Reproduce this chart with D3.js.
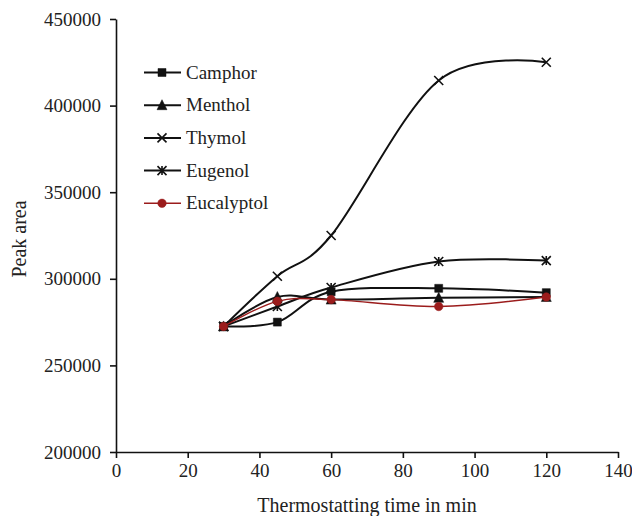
<!DOCTYPE html>
<html>
<head>
<meta charset="utf-8">
<script src="https://cdn.jsdelivr.net/npm/d3@7/dist/d3.min.js"></script>
<style>
body { margin: 0; background: #fff; }
text { font-family: "Liberation Serif", "Times New Roman", serif; fill: #222; }
</style>
</head>
<body>
<div id="chart"></div>
<script>
//Chart data
var times = [30, 45, 60, 90, 120];
var camphor = [272500, 275000, 292500, 294500, 292000];
var menthol = [272500, 289500, 288000, 289000, 289500];
var thymol = [272500, 301500, 325000, 414500, 425000];
var eugenol = [272500, 284000, 295000, 310000, 310500];
var eucalyptol = [272500, 287000, 288000, 284000, 289500];

var seriesNames = ["Camphor", "Menthol", "Thymol", "Eugenol", "Eucalyptol"];
var seriesValues = [camphor, menthol, thymol, eugenol, eucalyptol];
var xTicks = [0, 20, 40, 60, 80, 100, 120, 140];
var yTicks = [200000, 250000, 300000, 350000, 400000, 450000];

//Marker + colour per series
var styles = [
    {marker: "square", color: "#111", width: 2},
    {marker: "triangle", color: "#111", width: 2},
    {marker: "cross", color: "#111", width: 2},
    {marker: "star", color: "#111", width: 2},
    {marker: "circle", color: "#9b1c1c", width: 1.4}
];

//System dimensions
var width = 632;
var height = 516;
var margin = {left: 116, right: 14, top: 19, bottom: 64};

var svg = d3.select("#chart")
    .append("svg")
    .attr("width", width)
    .attr("height", height);

var x = d3.scaleLinear()
    .domain([0, 140])
    .range([margin.left, width - margin.right]);

var y = d3.scaleLinear()
    .domain([200000, 450000])
    .range([height - margin.bottom, margin.top]);

//Axes
var xAxis = svg.append("g")
    .attr("transform", "translate(0," + y(200000) + ")")
    .call(d3.axisBottom(x).tickValues(xTicks).tickSize(6).tickPadding(6).tickSizeOuter(0));

var yAxis = svg.append("g")
    .attr("transform", "translate(" + x(0) + ",0)")
    .call(d3.axisLeft(y).tickValues(yTicks).tickSize(6).tickPadding(9).tickFormat(d3.format("d")).tickSizeOuter(0));

[xAxis, yAxis].forEach(function(g) {
    g.select(".domain").attr("stroke", "#111").attr("stroke-width", 1.6);
    g.selectAll(".tick line").attr("stroke", "#111").attr("stroke-width", 1.6);
    g.selectAll(".tick text")
        .attr("fill", "#222")
        .style("font-family", "\"Liberation Serif\", serif")
        .style("font-size", "19px");
});

svg.append("text")
    .attr("x", x(70))
    .attr("y", 512)
    .attr("text-anchor", "middle")
    .style("font-size", "20px")
    .text("Thermostatting time in min");

svg.append("text")
    .attr("transform", "translate(26," + 239 + ") rotate(-90)")
    .attr("text-anchor", "middle")
    .style("font-size", "20px")
    .text("Peak area");

//Marker shapes
function markerPath(type, s) {
    var h = s / 2;
    if (type == "square") {
        return "M" + (-h) + "," + (-h) + "h" + s + "v" + s + "h" + (-s) + "Z";
    } else if (type == "triangle") {
        return "M0," + (-h - 1) + "L" + (h + 0.5) + "," + (h) + "L" + (-h - 0.5) + "," + (h) + "Z";
    } else if (type == "cross") {
        return "M" + (-h) + "," + (-h) + "L" + h + "," + h + "M" + h + "," + (-h) + "L" + (-h) + "," + h;
    } else if (type == "star") {
        return "M" + (-h) + "," + (-h) + "L" + h + "," + h + "M" + h + "," + (-h) + "L" + (-h) + "," + h +
            "M0," + (-h) + "L0," + h;
    }
    return d3.symbol().type(d3.symbolCircle).size(s * s * 0.7)();
}

function drawMarker(g, type, color, cx, cy) {
    var filled = type == "square" || type == "triangle" || type == "circle";
    var size = type == "circle" ? 9 : (type == "square" ? 8 : 9);
    g.append("path")
        .attr("d", markerPath(type, size))
        .attr("transform", "translate(" + cx + "," + cy + ")")
        .attr("fill", filled ? color : "none")
        .attr("stroke", color)
        .attr("stroke-width", filled ? 0.5 : 1.6);
}

//Lines
var line = d3.line()
    .x(function(d) { return x(d[0]); })
    .y(function(d) { return y(d[1]); })
    .curve(d3.curveCardinal.tension(0));

seriesValues.forEach(function(vals, i) {
    var st = styles[i];
    var pts = times.map(function(t, j) { return [t, vals[j]]; });
    var g = svg.append("g");
    g.append("path")
        .datum(pts)
        .attr("d", line)
        .attr("fill", "none")
        .attr("stroke", st.color)
        .attr("stroke-width", st.width);
    pts.forEach(function(p) {
        drawMarker(g, st.marker, st.color, x(p[0]), y(p[1]));
    });
});

//Legend
var legend = svg.append("g");
seriesNames.forEach(function(name, i) {
    var st = styles[i];
    var ly = 72.5 + i * 32.7;
    legend.append("line")
        .attr("x1", 144).attr("x2", 181)
        .attr("y1", ly).attr("y2", ly)
        .attr("stroke", st.color)
        .attr("stroke-width", st.width);
    drawMarker(legend, st.marker, st.color, 162, ly);
    legend.append("text")
        .attr("x", 186)
        .attr("y", ly + 6)
        .style("font-size", "19px")
        .text(name);
});
</script>
</body>
</html>
